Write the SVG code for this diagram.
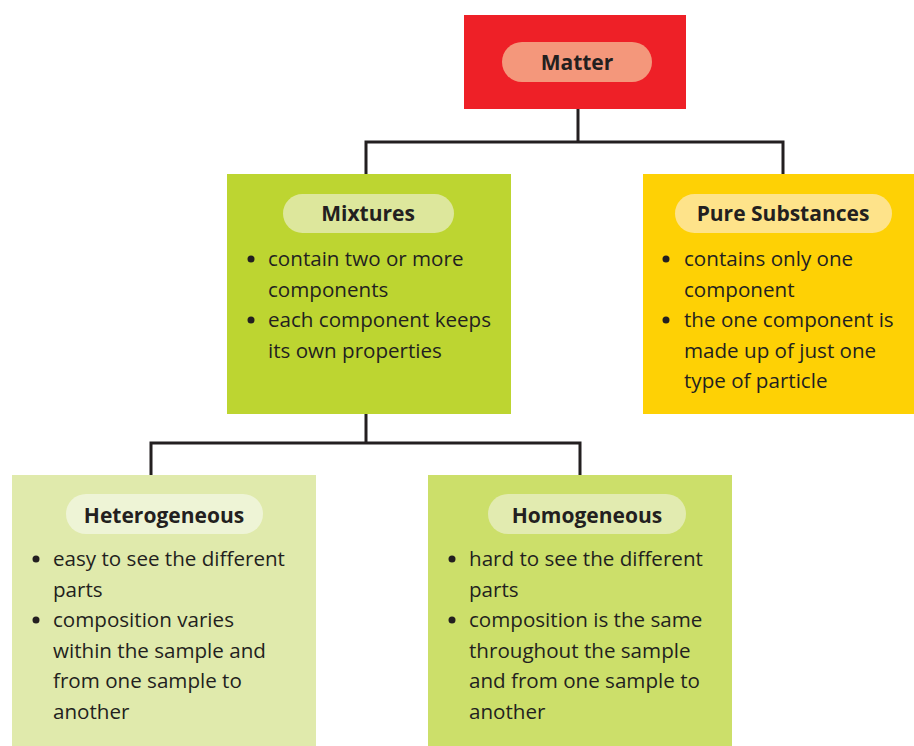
<svg xmlns="http://www.w3.org/2000/svg" width="914" height="746" viewBox="0 0 914 746">
<style>
.t{font-family:"Open Sans","Liberation Sans",sans-serif;font-size:20.6px;fill:#231f20;}
.h{font-family:"Open Sans","Liberation Sans",sans-serif;font-size:21px;font-weight:bold;fill:#231f20;text-anchor:middle;}
.c{fill:none;stroke:#231f20;stroke-width:3;}
.d{fill:#231f20;}
</style>
<rect width="914" height="746" fill="#fff"/>
<g id="connectors">
<polyline class="c" points="578,109 578,142"/>
<polyline class="c" points="366,174 366,142 783,142 783,174"/>
<polyline class="c" points="366,414 366,443"/>
<polyline class="c" points="151,475 151,443 580,443 580,475"/>
</g>
<g id="matter">
<rect x="464" y="15" width="222" height="94" fill="#ee2027"/>
<rect x="502" y="42" width="150" height="40" rx="20" fill="#f4977b"/>
<text class="h" x="577" y="70">Matter</text>
</g>
<g id="mixtures">
<rect x="227" y="174" width="284" height="240" fill="#bdd531"/>
<rect x="283" y="194" width="171" height="39" rx="19.5" fill="#dde79c"/>
<text class="h" x="368" y="221">Mixtures</text>
<circle class="d" cx="251" cy="259" r="3.5"/>
<circle class="d" cx="251" cy="320" r="3.5"/>
<text class="t" x="268" y="266">contain two or more</text>
<text class="t" x="268" y="297">components</text>
<text class="t" x="268" y="327">each component keeps</text>
<text class="t" x="268" y="358">its own properties</text>
</g>
<g id="pure">
<rect x="643" y="174" width="271" height="240" fill="#fed105"/>
<rect x="675" y="194" width="217" height="39" rx="19.5" fill="#fee38a"/>
<text class="h" x="783" y="221">Pure Substances</text>
<circle class="d" cx="666" cy="259" r="3.5"/>
<circle class="d" cx="666" cy="320" r="3.5"/>
<text class="t" x="684" y="266">contains only one</text>
<text class="t" x="684" y="297">component</text>
<text class="t" x="684" y="327">the one component is</text>
<text class="t" x="684" y="358">made up of just one</text>
<text class="t" x="684" y="388">type of particle</text>
</g>
<g id="heterogeneous">
<rect x="12" y="475" width="304" height="271" fill="#e0eaac"/>
<rect x="66" y="494" width="197" height="40" rx="20" fill="#eef4d6"/>
<text class="h" x="164" y="523">Heterogeneous</text>
<circle class="d" cx="36" cy="559" r="3.5"/>
<circle class="d" cx="36" cy="620" r="3.5"/>
<text class="t" x="53" y="566">easy to see the different</text>
<text class="t" x="53" y="597">parts</text>
<text class="t" x="53" y="627">composition varies</text>
<text class="t" x="53" y="658">within the sample and</text>
<text class="t" x="53" y="688">from one sample to</text>
<text class="t" x="53" y="719">another</text>
</g>
<g id="homogeneous">
<rect x="428" y="475" width="304" height="271" fill="#ccdf6a"/>
<rect x="488" y="494" width="198" height="40" rx="20" fill="#e2ebb0"/>
<text class="h" x="587" y="523">Homogeneous</text>
<circle class="d" cx="452" cy="559" r="3.5"/>
<circle class="d" cx="452" cy="620" r="3.5"/>
<text class="t" x="469" y="566">hard to see the different</text>
<text class="t" x="469" y="597">parts</text>
<text class="t" x="469" y="627">composition is the same</text>
<text class="t" x="469" y="658">throughout the sample</text>
<text class="t" x="469" y="688">and from one sample to</text>
<text class="t" x="469" y="719">another</text>
</g>
</svg>
